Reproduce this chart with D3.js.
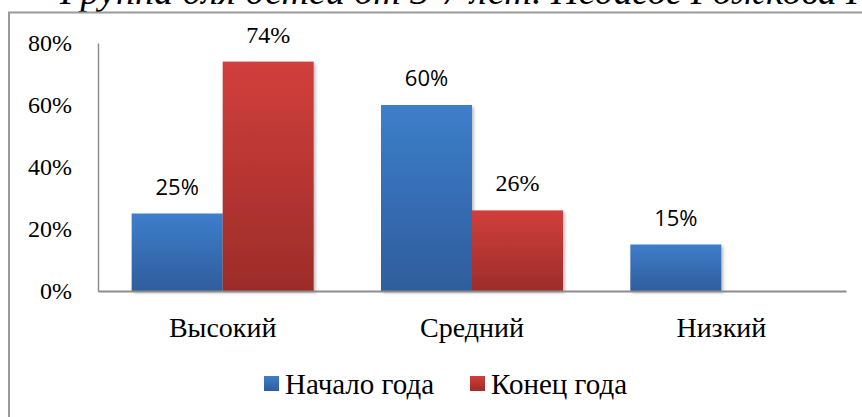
<!DOCTYPE html>
<html>
<head>
<meta charset="utf-8">
<script src="https://cdn.jsdelivr.net/npm/d3@7"></script>
<style>
  html, body { margin: 0; padding: 0; background: #fff; overflow: hidden; }
  svg { display: block; }
  .serif { font-family: 'Liberation Serif', 'Times New Roman', 'DejaVu Serif', serif; }
  .sans { font-family: 'Open Sans', 'Liberation Sans', sans-serif; }
</style>
</head>
<body>
<svg id="chart" width="862" height="417"></svg>
<script>
const categories = ['Высокий', 'Средний', 'Низкий']
const seriesNames = ['Начало года', 'Конец года']
const startValues = [0.25, 0.60, 0.15]
const endValues = [0.74, 0.26, null]
const yTicks = [0, 0.2, 0.4, 0.6, 0.8]
const titleText = 'Группа для детей от 3-7 лет. Педагог Рожкова К.В.'

const BLUE = ['#3d7ecb', '#2f5d9c']
const RED = ['#d13f3b', '#9c2c2a']

const svg = d3.select('#chart')
const defs = svg.append('defs')

const addGradient = (id, stops) => {
    const g = defs.append('linearGradient')
        .attr('id', id)
        .attr('x1', 0).attr('y1', 0).attr('x2', 0).attr('y2', 1)
    g.append('stop').attr('offset', '0%').attr('stop-color', stops[0])
    g.append('stop').attr('offset', '100%').attr('stop-color', stops[1])
}
addGradient('grad-blue', BLUE)
addGradient('grad-red', RED)

const shadow = defs.append('filter').attr('id', 'shadow')
    .attr('x', '-10%').attr('y', '-10%').attr('width', '130%').attr('height', '130%')
shadow.append('feDropShadow')
    .attr('dx', 2).attr('dy', 2).attr('stdDeviation', 1.5)
    .attr('flood-color', '#000').attr('flood-opacity', 0.25)

// title, cut off by the top edge
svg.append('text')
    .attr('class', 'serif')
    .attr('x', 60).attr('y', 4)
    .style('font-style', 'italic')
    .style('font-size', '38px')
    .attr('fill', '#000')
    .text(titleText)

// chart frame (runs past right and bottom edges)
svg.append('rect')
    .attr('x', 9).attr('y', 12.5)
    .attr('width', 900).attr('height', 450)
    .attr('fill', 'none')
    .attr('stroke', '#9a9a9a')
    .attr('stroke-width', 2)

const x = d3.scaleBand()
    .domain(categories)
    .range([98, 846])
    .paddingInner(0.27)
    .paddingOuter(0.135)

const xs = d3.scaleBand()
    .domain([0, 1])
    .range([0, x.bandwidth()])

const y = d3.scaleLinear()
    .domain([0, 0.8])
    .range([291, 43])

// y axis
const yAxis = svg.append('g')
    .attr('transform', 'translate(98,0)')
    .call(d3.axisLeft(y).tickValues(yTicks).tickSize(0).tickPadding(26)
        .tickFormat(d3.format('.0%')))
    .attr('font-family', null)
yAxis.select('.domain').attr('stroke', '#8c8c8c').attr('stroke-width', 1.5)
yAxis.selectAll('text')
    .attr('class', 'serif')
    .style('font-size', '24px')
    .attr('fill', '#000')

const series = [
    {name: seriesNames[0], values: startValues, fill: 'url(#grad-blue)', font: 'sans', size: '22px'},
    {name: seriesNames[1], values: endValues, fill: 'url(#grad-red)', font: 'serif', size: '24px'}
]

series.forEach((s, i) => {
    const pts = categories.map((c, j) => ({c: c, v: s.values[j]})).filter((d) => d.v != null)

    svg.append('g').selectAll('rect')
        .data(pts)
        .enter().append('rect')
        .attr('x', (d) => x(d.c) + xs(i))
        .attr('y', (d) => y(d.v))
        .attr('width', xs.bandwidth())
        .attr('height', (d) => y(0) - y(d.v))
        .attr('fill', s.fill)
        .attr('filter', 'url(#shadow)')

    svg.append('g').selectAll('text')
        .data(pts)
        .enter().append('text')
        .attr('class', s.font)
        .attr('x', (d) => x(d.c) + xs(i) + xs.bandwidth() / 2)
        .attr('y', (d) => y(d.v) - 19)
        .attr('text-anchor', 'middle')
        .style('font-size', s.size)
        .attr('fill', '#000')
        .text((d) => d3.format('.0%')(d.v))
})

// x axis
const xAxis = svg.append('g')
    .attr('transform', `translate(0,${y(0)})`)
    .call(d3.axisBottom(x).tickSize(0).tickPadding(26))
    .attr('font-family', null)
xAxis.select('.domain').attr('stroke', '#8c8c8c').attr('stroke-width', 2)
xAxis.selectAll('text')
    .attr('class', 'serif')
    .style('font-size', '28px')
    .attr('fill', '#000')

// legend
const legend = svg.append('g')
const legendX = [264, 470]
series.forEach((s, i) => {
    legend.append('rect')
        .attr('x', legendX[i]).attr('y', 376)
        .attr('width', 15).attr('height', 15)
        .attr('fill', s.fill)
    legend.append('text')
        .attr('class', 'serif')
        .attr('x', legendX[i] + 21).attr('y', 394)
        .style('font-size', '29px')
        .attr('fill', '#000')
        .text(s.name)
})
</script>
</body>
</html>
